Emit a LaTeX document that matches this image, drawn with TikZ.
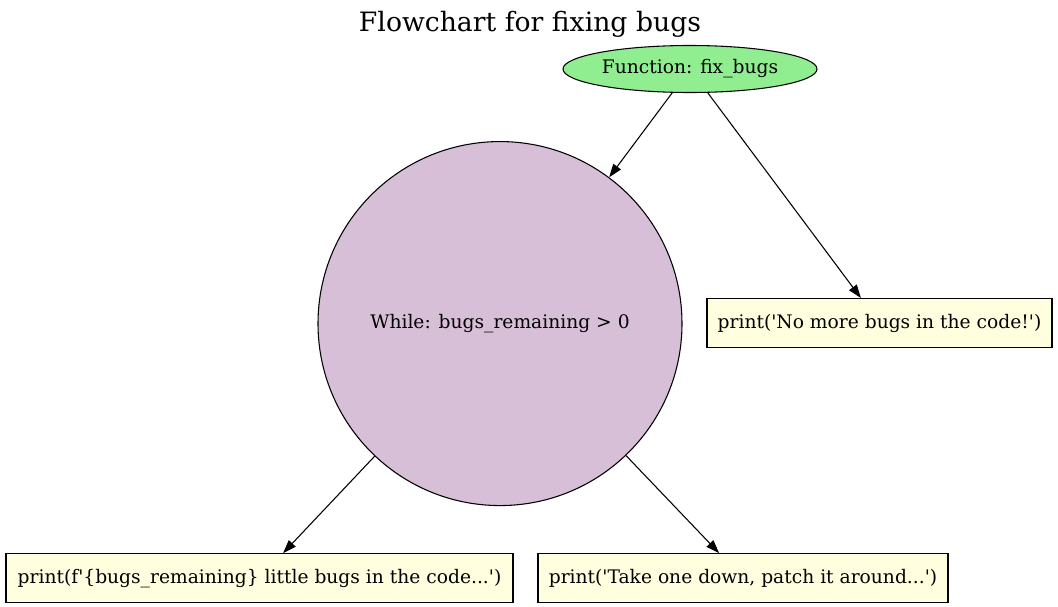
\documentclass[tikz,border=0pt]{standalone}
\usepackage{fontspec}
\setmainfont{DejaVu Serif}
\usetikzlibrary{positioning}
\usetikzlibrary{shapes.geometric}
\usetikzlibrary{arrows.meta}
\definecolor{fnfill}{HTML}{90EE90}
\definecolor{loopfill}{HTML}{D8BFD8}
\definecolor{printfill}{HTML}{FFFFE0}
\newcommand{\sq}{\textquotesingle}
\tikzset{
  func/.style={ellipse,draw,fill=fnfill,minimum width=190.5pt,minimum height=35.25pt,inner sep=0pt},
  loopc/.style={circle,draw,fill=loopfill,minimum size=273pt,inner sep=0pt},
  printbox/.style={rectangle,draw,fill=printfill,minimum height=36.75pt,inner xsep=8pt},
  flow/.style={-{Triangle[length=10pt,width=7pt]}}
}

\begin{document}
\begin{tikzpicture}[font=\fontsize{14}{17}\selectfont,line width=0.8pt]
    \useasboundingbox (0,0) rectangle (793.5pt,-455.25pt);
    \node[font=\fontsize{20}{24}\selectfont] (title) at (397.5pt,-18pt) {Flowchart for fixing bugs};
    \node[func] (fn) at (517.5pt,-51.75pt) {Function: fix\_bugs};
    \node[loopc,below = 36pt of fn,xshift = -142.5pt] (loop) {While: bugs\_remaining > 0};
    \node[printbox,minimum width=258.75pt,below = 153.75pt of fn,xshift = 142.125pt] (done) {print(\sq No more bugs in the code!\sq)};
    \node[printbox,minimum width=380.25pt,below = 35.25pt of loop,xshift = -180.375pt] (count) {print(f\sq\{bugs\_remaining\} little bugs in the code...\sq)};
    \node[printbox,minimum width=307.5pt,below = 35.25pt of loop,xshift = 182.25pt] (patch) {print(\sq Take one down, patch it around...\sq)};
    \draw[flow] (fn) -- (loop);
    \draw[flow] (fn) -- (done);
    \draw[flow] (loop) -- (count);
    \draw[flow] (loop) -- (patch);
  \end{tikzpicture}
\end{document}
